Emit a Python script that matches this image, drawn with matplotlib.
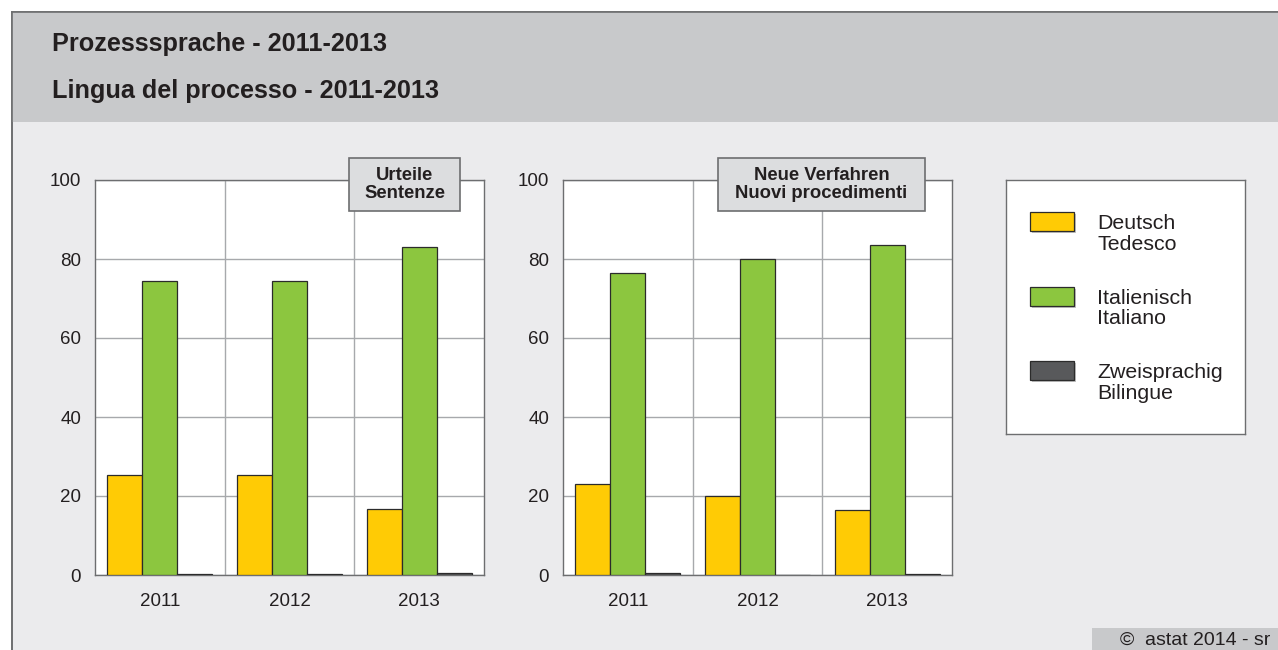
import numpy as np
import matplotlib
matplotlib.use("Agg")
import matplotlib.pyplot as plt
from matplotlib.patches import Rectangle

plt.rcParams['font.family'] = ['Liberation Sans', 'DejaVu Sans']

years = ['2011', '2012', '2013']
series = ['Deutsch\nTedesco', 'Italienisch\nItaliano', 'Zweisprachig\nBilingue']
colors = ['#ffcb05', '#8cc63f', '#58595b']

urteile_de = [25.3, 25.3, 16.6]
urteile_it = [74.4, 74.4, 83.0]
urteile_bi = [0.3, 0.3, 0.5]

verfahren_de = [23.0, 20.1, 16.5]
verfahren_it = [76.5, 80.0, 83.5]
verfahren_bi = [0.6, 0.0, 0.2]

panels = [
    ('Urteile\nSentenze', [urteile_de, urteile_it, urteile_bi], 95, (349, 460)),
    ('Neue Verfahren\nNuovi procedimenti', [verfahren_de, verfahren_it, verfahren_bi], 563, (718, 925)),
]

W, H = 1278, 650
fig = plt.figure(figsize=(W / 100, H / 100), dpi=100)
fig.patch.set_facecolor('white')


def px(x0, y0, w, h):
    # pixel box (top-left origin) -> figure fraction
    return [x0 / W, 1 - (y0 + h) / H, w / W, h / H]


def pixel_axes(z):
    a = fig.add_axes([0, 0, 1, 1], zorder=z)
    a.set_xlim(0, W)
    a.set_ylim(H, 0)
    a.axis('off')
    a.patch.set_visible(False)
    return a


# background frame and header band
bg = pixel_axes(-10)
bg.add_patch(Rectangle((12, 12), W, H, facecolor='#ebebed', edgecolor='#6d6e70', lw=1.2))
bg.add_patch(Rectangle((12, 12), W, 110, facecolor='#c8c9cb', edgecolor='none'))
bg.plot([12, W], [12, 12], color='#6d6e70', lw=1.2)
bg.plot([12, 12], [12, H], color='#6d6e70', lw=1.2)
bg.add_patch(Rectangle((1092, 628), W - 1092, 22, facecolor='#c8c9cb', edgecolor='none'))
bg.text(1195, 640, '\u00a9  astat 2014 - sr', fontsize=14, color='#231f20', ha='center', va='center')
bg.text(52, 44, 'Prozesssprache - 2011-2013', fontsize=18.2, fontweight='bold',
        color='#231f20', va='center')
bg.text(52, 91, 'Lingua del processo - 2011-2013', fontsize=18.2, fontweight='bold',
        color='#231f20', va='center')

top_layer = pixel_axes(10)

x = np.arange(len(years))
bw = 0.27
for title, vals, left, (bx0, bx1) in panels:
    ax = fig.add_axes(px(left, 180, 389, 395))
    ax.set_facecolor('white')
    for i, (v, c) in enumerate(zip(vals, colors)):
        ax.bar(x + (i - 1) * bw, v, bw, color=c, edgecolor='#2b2b2b', linewidth=0.9, zorder=3)
    ax.set_xlim(-0.5, 2.5)
    ax.set_ylim(0, 100)
    ax.set_yticks([0, 20, 40, 60, 80, 100])
    ax.set_xticks(x)
    ax.set_xticklabels(years)
    ax.set_xticks([0.5, 1.5], minor=True)
    ax.grid(axis='y', which='major', color='#a7a9ac', lw=1)
    ax.grid(axis='x', which='minor', color='#a7a9ac', lw=1)
    ax.grid(axis='x', which='major', visible=False)
    ax.tick_params(which='both', length=0, labelsize=13.5, colors='#231f20', pad=13)
    ax.tick_params(axis='y', pad=10)
    for s in ax.spines.values():
        s.set_color('#6d6e70')
        s.set_linewidth(1)
    ax.set_axisbelow(True)

    # panel caption box
    top_layer.add_patch(Rectangle((bx0, 158), bx1 - bx0, 53, facecolor='#dcdddf',
                                  edgecolor='#6d6e70', lw=1.2))
    top_layer.text((bx0 + bx1) / 2, 184.5, title, ha='center', va='center', fontsize=13.3,
                   fontweight='bold', color='#231f20', linespacing=1.05)

# legend box
lg = fig.add_axes(px(1006, 180, 239, 254))
lg.set_xlim(1006, 1245)
lg.set_ylim(434, 180)
lg.set_xticks([])
lg.set_yticks([])
lg.set_facecolor('white')
for s in lg.spines.values():
    s.set_color('#6d6e70')
    s.set_linewidth(1)
for k, (lab, c) in enumerate(zip(series, colors)):
    top = 212 + k * 74.5
    lg.add_patch(Rectangle((1032, top + 2), 44, 19, facecolor='#9a9a9a', edgecolor='none', alpha=0.6))
    lg.add_patch(Rectangle((1030, top), 44, 19, facecolor=c, edgecolor='#2b2b2b', lw=0.9))
    lg.text(1097, top + 2, lab, fontsize=15.4, color='#231f20', va='top', ha='left', linespacing=1.12)

plt.savefig('out.png', dpi=100)
